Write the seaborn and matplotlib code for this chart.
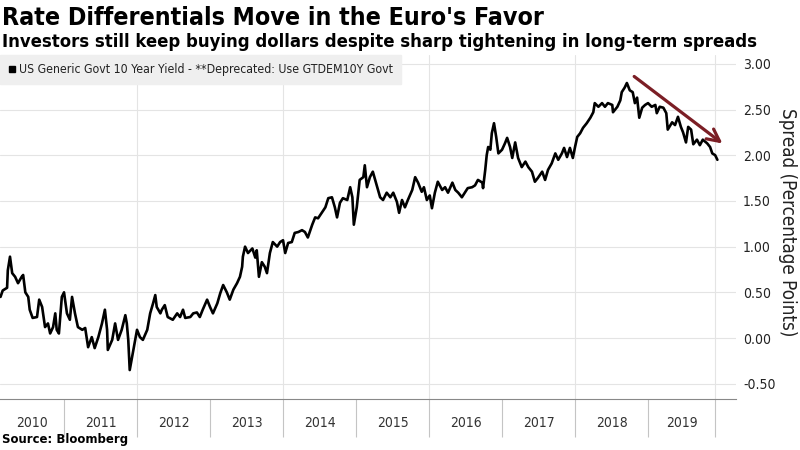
import pandas as pd
import seaborn as sns
import matplotlib.pyplot as plt
from matplotlib.lines import Line2D

# spread US 10y - German 10y (decimal years)
years = [
    2010.13, 2010.16, 2010.22, 2010.23, 2010.26, 2010.29, 2010.33, 2010.37, 2010.42, 2010.44,
    2010.47, 2010.51, 2010.53, 2010.57, 2010.63, 2010.66, 2010.70, 2010.74, 2010.78, 2010.81,
    2010.85, 2010.88, 2010.90, 2010.93, 2010.97, 2011.00, 2011.04, 2011.08, 2011.11, 2011.15,
    2011.19, 2011.25, 2011.29, 2011.33, 2011.38, 2011.42, 2011.47, 2011.52, 2011.56, 2011.59,
    2011.60, 2011.66, 2011.70, 2011.74, 2011.79, 2011.84, 2011.86, 2011.88, 2011.90, 2011.95,
    2012.00, 2012.04, 2012.08, 2012.14, 2012.18, 2012.22, 2012.25, 2012.27, 2012.32, 2012.34,
    2012.38, 2012.42, 2012.49, 2012.55, 2012.59, 2012.63, 2012.66, 2012.73, 2012.77, 2012.82,
    2012.86, 2012.90, 2012.96, 2013.00, 2013.04, 2013.10, 2013.14, 2013.18, 2013.23, 2013.27,
    2013.32, 2013.37, 2013.41, 2013.44, 2013.45, 2013.48, 2013.52, 2013.58, 2013.62, 2013.64,
    2013.67, 2013.71, 2013.75, 2013.78, 2013.82, 2013.86, 2013.92, 2013.96, 2014.00, 2014.03,
    2014.07, 2014.12, 2014.16, 2014.21, 2014.26, 2014.30, 2014.34, 2014.40, 2014.44, 2014.48,
    2014.53, 2014.58, 2014.62, 2014.67, 2014.71, 2014.74, 2014.78, 2014.82, 2014.88, 2014.92,
    2014.95, 2014.97, 2015.01, 2015.05, 2015.10, 2015.12, 2015.15, 2015.19, 2015.23, 2015.29,
    2015.33, 2015.37, 2015.42, 2015.47, 2015.51, 2015.56, 2015.59, 2015.63, 2015.67, 2015.71,
    2015.77, 2015.81, 2015.85, 2015.90, 2015.93, 2015.97, 2016.01, 2016.04, 2016.08, 2016.12,
    2016.18, 2016.22, 2016.26, 2016.32, 2016.36, 2016.40, 2016.45, 2016.49, 2016.53, 2016.59,
    2016.63, 2016.67, 2016.73, 2016.74, 2016.77, 2016.79, 2016.81, 2016.84, 2016.86, 2016.89,
    2016.92, 2016.95, 2017.00, 2017.04, 2017.07, 2017.11, 2017.14, 2017.18, 2017.22, 2017.27,
    2017.32, 2017.36, 2017.41, 2017.45, 2017.49, 2017.55, 2017.59, 2017.63, 2017.68, 2017.73,
    2017.77, 2017.82, 2017.85, 2017.89, 2017.93, 2017.97, 2018.00, 2018.03, 2018.07, 2018.11,
    2018.16, 2018.21, 2018.25, 2018.27, 2018.32, 2018.37, 2018.41, 2018.45, 2018.51, 2018.52,
    2018.58, 2018.62, 2018.64, 2018.68, 2018.71, 2018.75, 2018.79, 2018.82, 2018.85, 2018.88,
    2018.92, 2018.96, 2019.00, 2019.05, 2019.10, 2019.12, 2019.16, 2019.21, 2019.25, 2019.27,
    2019.33, 2019.37, 2019.41, 2019.45, 2019.48, 2019.52, 2019.55, 2019.59, 2019.62, 2019.67,
    2019.71, 2019.75, 2019.81, 2019.85, 2019.88, 2019.92, 2019.95,
]
spread = [
    0.45, 0.52, 0.55, 0.74, 0.89, 0.71, 0.67, 0.60, 0.67, 0.69,
    0.50, 0.45, 0.31, 0.22, 0.23, 0.42, 0.34, 0.12, 0.16, 0.05,
    0.12, 0.27, 0.09, 0.05, 0.45, 0.50, 0.27, 0.20, 0.45, 0.27,
    0.12, 0.09, 0.11, -0.10, 0.01, -0.11, 0.01, 0.16, 0.31, 0.09,
    -0.13, -0.02, 0.16, -0.02, 0.09, 0.25, 0.16, -0.02, -0.35, -0.13,
    0.09, 0.01, -0.02, 0.09, 0.27, 0.38, 0.47, 0.34, 0.27, 0.31,
    0.36, 0.23, 0.20, 0.27, 0.23, 0.31, 0.22, 0.23, 0.27, 0.28,
    0.23, 0.31, 0.42, 0.34, 0.27, 0.38, 0.49, 0.58, 0.50, 0.42,
    0.53, 0.60, 0.67, 0.78, 0.89, 1.00, 0.93, 0.98, 0.88, 0.96,
    0.67, 0.83, 0.78, 0.71, 0.93, 1.05, 1.00, 1.05, 1.07, 0.93,
    1.04, 1.05, 1.15, 1.16, 1.18, 1.16, 1.10, 1.24, 1.32, 1.31,
    1.37, 1.43, 1.53, 1.54, 1.43, 1.32, 1.48, 1.53, 1.51, 1.65,
    1.54, 1.24, 1.43, 1.73, 1.76, 1.89, 1.65, 1.76, 1.82, 1.65,
    1.54, 1.51, 1.59, 1.54, 1.59, 1.49, 1.37, 1.51, 1.43, 1.51,
    1.62, 1.76, 1.70, 1.60, 1.65, 1.51, 1.56, 1.42, 1.59, 1.71,
    1.62, 1.65, 1.59, 1.70, 1.62, 1.59, 1.54, 1.59, 1.64, 1.65,
    1.67, 1.73, 1.70, 1.64, 1.84, 2.00, 2.09, 2.06, 2.24, 2.35,
    2.20, 2.02, 2.06, 2.13, 2.19, 2.09, 1.97, 2.14, 1.97, 1.87,
    1.93, 1.87, 1.82, 1.71, 1.75, 1.82, 1.73, 1.84, 1.91, 2.02,
    1.95, 2.02, 2.08, 1.98, 2.08, 1.97, 2.09, 2.20, 2.24, 2.30,
    2.35, 2.41, 2.47, 2.57, 2.53, 2.57, 2.53, 2.57, 2.55, 2.47,
    2.53, 2.60, 2.69, 2.74, 2.79, 2.71, 2.69, 2.57, 2.63, 2.41,
    2.52, 2.55, 2.57, 2.53, 2.55, 2.46, 2.53, 2.52, 2.46, 2.28,
    2.36, 2.33, 2.42, 2.31, 2.25, 2.14, 2.31, 2.28, 2.12, 2.17,
    2.11, 2.17, 2.13, 2.09, 2.02, 2.00, 1.95,
]

year_starts = [2011, 2012, 2013, 2014, 2015, 2016, 2017, 2018, 2019]
last_tick = 2019.92
grid_years = [2012, 2014, 2016, 2018, 2019.92]
year_labels = ['2010', '2011', '2012', '2013', '2014', '2015', '2016', '2017', '2018', '2019']
y_ticks = [-0.5, 0.0, 0.5, 1.0, 1.5, 2.0, 2.5, 3.0]
x_min, x_max = 2010.123, 2020.205
y_min, y_max = -0.667, 3.096

df = pd.DataFrame({'year': years, 'spread': spread})

sns.set_style('white')
plt.rcParams['font.family'] = ['DejaVu Sans']
plt.rcParams['font.stretch'] = 'condensed'

fig = plt.figure(figsize=(8, 4.5), dpi=100)
ax = fig.add_axes([0.0, 0.1133, 0.92, 0.7644])

for g in grid_years:
    ax.axvline(g, color='#e4e4e4', lw=0.8, zorder=0)
ax.grid(axis='y', color='#e4e4e4', lw=0.8)
ax.set_axisbelow(True)

sns.lineplot(data=df, x='year', y='spread', color='black', lw=1.9,
             estimator=None, legend=False, ax=ax)

ax.set_xlim(x_min, x_max)
ax.set_ylim(y_min, y_max)
ax.set_xlabel('')
ax.set_ylabel('')

# year dividers as long major ticks, labels on minor ticks in the middle
bounds = [x_min] + year_starts + [last_tick]
centers = [(a + b) / 2 for a, b in zip(bounds[:-1], bounds[1:])]
ax.set_xticks(year_starts + [last_tick])
ax.set_xticklabels([''] * (len(year_starts) + 1))
ax.set_xticks(centers, minor=True)
ax.set_xticklabels(year_labels, minor=True)
ax.tick_params(axis='x', which='major', bottom=True, length=27, width=0.8,
               color='#c4c4c4', direction='out')
ax.tick_params(axis='x', which='minor', bottom=True, length=0, pad=12,
               labelsize=10, labelcolor='#333333')

ax.set_yticks(y_ticks)
ax.set_yticklabels([f'{v:.2f}' for v in y_ticks])
ax.tick_params(axis='y', left=False, labelleft=False, right=False, labelright=True,
               length=0, pad=5, labelsize=10, labelcolor='#222222')

for s in ['top', 'left', 'right']:
    ax.spines[s].set_visible(False)
ax.spines['bottom'].set_color('#888888')
ax.spines['bottom'].set_linewidth(0.8)

handle = Line2D([], [], marker='s', color='black', ls='none', markersize=5)
ax.legend([handle], ['US Generic Govt 10 Year Yield - **Deprecated: Use GTDEM10Y Govt'],
          loc='upper left', bbox_to_anchor=(0, 1), borderaxespad=0, frameon=True,
          facecolor='#efefef', edgecolor='#efefef', framealpha=1, fancybox=False,
          fontsize=8.8, handlelength=0.6, handletextpad=0.3, borderpad=0.65,
          labelcolor='#222222')

ax.annotate('', xy=(2020.05, 2.11), xytext=(2018.78, 2.88),
            arrowprops=dict(arrowstyle='->', color='#7b1e25', lw=2.3, mutation_scale=22))

fig.text(0.003, 1 - 18 / 450, "Rate Differentials Move in the Euro's Favor",
         fontsize=17.9, weight='bold', va='center', ha='left', color='black')
fig.text(0.003, 1 - 42 / 450,
         'Investors still keep buying dollars despite sharp tightening in long-term spreads',
         fontsize=13.2, weight='bold', va='center', ha='left', color='black')
fig.text(0.003, 1 - 440 / 450, 'Source: Bloomberg', fontsize=9.4, weight='bold',
         va='center', ha='left', color='black')
fig.text(787 / 800, 1 - 222 / 450, 'Spread (Percentage Points)', rotation=270,
         fontsize=13.5, va='center', ha='center', color='#222222')

fig.savefig('out.png', dpi=100)
